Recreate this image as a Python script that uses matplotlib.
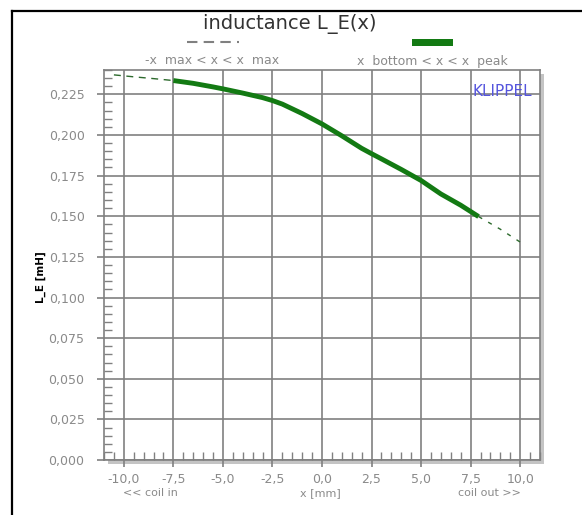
import matplotlib
matplotlib.use("Agg")
import matplotlib.pyplot as plt
import numpy as np
from matplotlib.patches import Rectangle
from matplotlib.lines import Line2D
from matplotlib.ticker import MultipleLocator, FuncFormatter

# desplazamiento de la bobina (mm) e inductancia L_E (mH)
pos_mm = [-10.5, -9.5, -8.5, -7.5, -6.5, -5.5, -5.0, -4.0, -3.0, -2.5, -2.0, -1.0,
          0.0, 1.0, 2.0, 2.5, 3.0, 4.0, 5.0, 6.0, 7.0, 7.9, 9.0, 10.0]
le_mh = [0.2370, 0.2358, 0.2347, 0.2335, 0.2318, 0.2296, 0.2284, 0.2258, 0.2230,
         0.2212, 0.2190, 0.2132, 0.2068, 0.1995, 0.1918, 0.1885, 0.1853, 0.1788,
         0.1720, 0.1637, 0.1568, 0.1498, 0.1420, 0.1341]
x_bottom = -7.5
x_peak = 7.9

leyenda = ["-x  max < x < x  max", "x  bottom < x < x  peak"]
gris = "#808080"
gris_txt = "#8a8a8a"
verde = "#137a13"

W, H = 582, 515
fig = plt.figure(figsize=(W / 100, H / 100), dpi=100)

def fx(px):
    return px / W

def fy(py):
    return 1 - py / H

# marco exterior
fig.add_artist(Line2D([fx(12), fx(12)], [fy(11), fy(520)], color="black", lw=1.6))
fig.add_artist(Line2D([fx(12), fx(590)], [fy(11), fy(11)], color="black", lw=1.6))

ax_l, ax_t, ax_r, ax_b = 104, 70, 540, 460
# sombra del area de trazado
fig.add_artist(Rectangle((fx(ax_l + 4), fy(ax_b + 4)), fx(ax_r - ax_l), (ax_b - ax_t) / H,
                         facecolor="#c4c4c4", edgecolor="none", zorder=0))
ax = fig.add_axes([fx(ax_l), fy(ax_b), fx(ax_r - ax_l), (ax_b - ax_t) / H], zorder=1)

x = np.array(pos_mm)
y = np.array(le_mh)
izq = x <= x_bottom
der = x >= x_peak
dentro = (x >= x_bottom) & (x <= x_peak)

ax.plot(x[izq], y[izq], color="#2d6a2d", lw=1.0, ls=(0, (5, 4)))
ax.plot(x[der], y[der], color="#2d6a2d", lw=1.0, ls=(0, (3, 5)))
ax.plot(x[dentro], y[dentro], color=verde, lw=3.5, solid_capstyle="butt")

ax.set_xlim(-11, 11)
ax.set_ylim(0, 0.24)
ax.xaxis.set_major_locator(MultipleLocator(2.5))
ax.xaxis.set_minor_locator(MultipleLocator(0.5))
ax.yaxis.set_major_locator(MultipleLocator(0.025))
ax.yaxis.set_minor_locator(MultipleLocator(0.005))
ax.xaxis.set_major_formatter(FuncFormatter(lambda v, p: f"{v:.1f}".replace(".", ",")))
ax.yaxis.set_major_formatter(FuncFormatter(lambda v, p: f"{v:.3f}".replace(".", ",")))

ax.grid(True, which="major", color=gris, lw=1.2)
ax.tick_params(which="major", direction="out", length=5, width=1.2, color=gris,
               labelcolor=gris_txt, labelsize=9)
ax.tick_params(axis="y", which="major", pad=9)
ax.tick_params(axis="x", which="major", pad=4)
ax.tick_params(which="minor", direction="in", length=6, width=1.0, color=gris)
for s in ax.spines.values():
    s.set_color(gris)
    s.set_linewidth(1.2)

# titulo y etiquetas
fig.text(fx(290), fy(24), "inductance L_E(x)", ha="center", va="center",
         fontsize=14, color="#333333")
fig.text(fx(41), fy(277), "L_E [mH]", rotation=90, ha="center", va="center",
         fontsize=7.5, color="black", fontweight="bold")
fig.text(fx(150), fy(493), "<< coil in", ha="center", va="center", fontsize=8, color=gris_txt)
fig.text(fx(320), fy(493), "x [mm]", ha="center", va="center", fontsize=8, color=gris_txt)
fig.text(fx(489), fy(493), "coil out >>", ha="center", va="center", fontsize=8, color=gris_txt)
ax.text(0.982, 0.946, "KLIPPEL", transform=ax.transAxes, ha="right", va="center",
        fontsize=11, color="#5555dd")

# leyenda
fig.add_artist(Line2D([fx(187), fx(239)], [fy(42), fy(42)], color=gris, lw=1.5,
                      ls=(0, (5, 3))))
fig.text(fx(212), fy(61), leyenda[0], ha="center", va="center", fontsize=9, color=gris_txt)
fig.add_artist(Rectangle((fx(412), fy(46)), fx(41), 7 / H, facecolor=verde, edgecolor="none"))
fig.text(fx(432), fy(61), leyenda[1], ha="center", va="center", fontsize=9, color=gris_txt)

fig.savefig("out.png", dpi=100)
